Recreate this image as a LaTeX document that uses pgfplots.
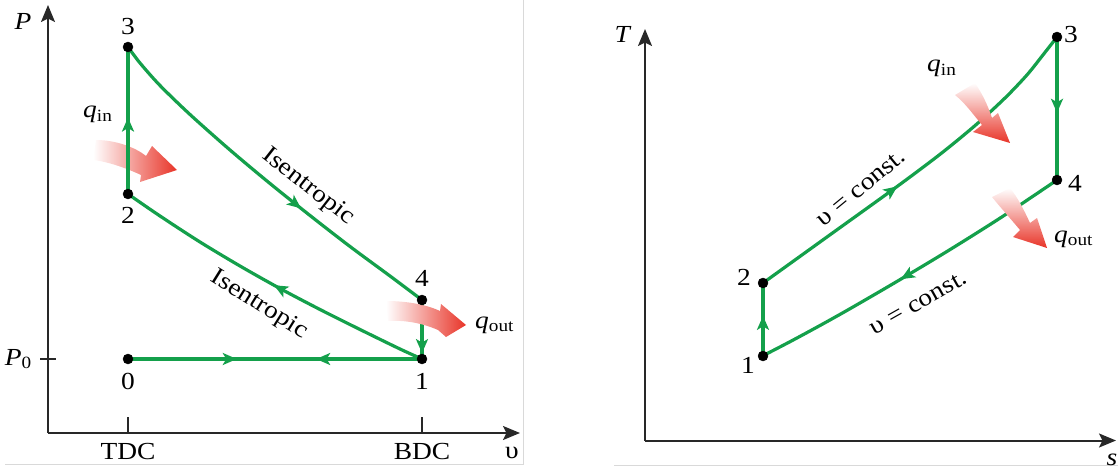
\documentclass[border=0pt]{standalone}
\usepackage{fontspec}
\setmainfont{Liberation Serif}[FakeStretch=1.12]
\usepackage{pgfplots}
\pgfplotsset{compat=1.18}
\usetikzlibrary{arrows.meta,decorations.markings}
\definecolor{cyc}{RGB}{20,160,75}
\definecolor{heat}{RGB}{232,52,40}
\definecolor{axl}{RGB}{40,40,40}
\tikzset{
  cyl/.style={cyc, line width=3.2pt, line join=round},
  ma/.style={postaction={decorate}, decoration={markings, mark=at position #1 with {\arrow{Stealth[length=14pt,width=12pt,inset=3.5pt]}}}},
}
\pgfplotsset{
  dots/.style={only marks, mark=*, mark size=5pt, black},
}
\begin{document}
\fontsize{24.5}{28}\selectfont
\begin{tikzpicture}
\draw[black!15, line width=0.8pt] (5pt,5pt) -- (523pt,5pt) -- (523pt,469pt);
\draw[black!15, line width=0.8pt] (614pt,4pt) -- (1118pt,4pt);

% ---------------- P - v diagram ----------------
\begin{axis}[
  at={(48pt,36pt)}, anchor=south west, scale only axis,
  width=472pt, height=428pt,
  xmin=48, xmax=520, ymin=36, ymax=464,
  axis lines=left, clip=false,
  axis line style={axl, line width=2pt, -{Stealth[length=17pt,width=14pt,inset=3.5pt]}},
  xtick={128,422}, xticklabels={TDC,BDC},
  ytick={110}, yticklabels={\textit{P}\textsubscript{0}},
  tick align=inside, major tick length=16pt,
  tick style={axl, line width=1.6pt},
  ytick style={xshift=-8pt},
  xticklabel style={yshift=-2pt},
  yticklabel style={xshift=-8pt},
]
% heat in (behind line)
\shade[left color=white, right color=heat]
  (axis cs:96,329) .. controls (axis cs:115,329) and (axis cs:135,322) .. (axis cs:146,313)
  -- (axis cs:152,323) -- (axis cs:177,299) -- (axis cs:140,287) -- (axis cs:141,294)
  .. controls (axis cs:128,300) and (axis cs:110,307) .. (axis cs:93,309) -- cycle;
% process lines
\addplot[cyl, postaction={decorate}, decoration={markings,
   mark=at position 0.37 with {\arrow{Stealth[length=14pt,width=12pt,inset=3.5pt]}},
   mark=at position 0.64 with {\arrowreversed{Stealth[length=14pt,width=12pt,inset=3.5pt]}}}]
  coordinates {(128,110) (422,110)};
\addplot[cyl, ma=0.49, smooth] coordinates {
  (422,110) (400,120) (360,139.5) (320,159.5) (280,180.5) (240,203) (200,227) (160,253) (128,275)};
\addplot[cyl, ma=0.52] coordinates {(128,275) (128,422)};
\addplot[cyl, ma=0.61, smooth] coordinates {
  (128,422) (140,406) (160,383.5) (190,354.5) (230,319) (270,285.5) (310,253.5) (350,222.5) (390,193) (422,169)};
\addplot[cyl, ma=0.9] coordinates {(422,169) (422,110)};
% heat out
\shade[left color=white, right color=heat]
  (axis cs:386,168) .. controls (axis cs:405,168) and (axis cs:425,165) .. (axis cs:440,158)
  -- (axis cs:441,165) -- (axis cs:466,144) -- (axis cs:446,132) -- (axis cs:438,139)
  .. controls (axis cs:422,146) and (axis cs:405,149) .. (axis cs:388,148) -- cycle;
\addplot[dots] coordinates {(128,110) (422,110) (128,275) (128,422) (422,169)};
% labels
\node at (axis cs:128,442.3) {3};
\node at (axis cs:128,254) {2};
\node at (axis cs:422,191) {4};
\node at (axis cs:128,87.3) {0};
\node at (axis cs:422,87.3) {1};
\node[anchor=base west, inner sep=0pt] at (axis cs:83,351) {\textit{q}\textsubscript{in}};
\node[anchor=base west, inner sep=0pt] at (axis cs:475,141) {\textit{q}\textsubscript{out}};
\node at (axis cs:23,448) {\textit{P}};
\node at (axis cs:512,16) {υ};
\node[rotate=-38] at (axis cs:308,282) {Isentropic};
\node[rotate=-32] at (axis cs:259,164) {Isentropic};
\end{axis}

% ---------------- T - s diagram ----------------
\begin{axis}[
  at={(645pt,28.5pt)}, anchor=south west, scale only axis,
  width=471pt, height=411.5pt,
  xmin=645, xmax=1116, ymin=28.5, ymax=440,
  axis lines=left, clip=false,
  axis line style={axl, line width=2pt, -{Stealth[length=17pt,width=14pt,inset=3.5pt]}},
  xtick=\empty, ytick=\empty,
]
\addplot[cyl, ma=0.55] coordinates {(763,113) (763,186)};
\addplot[cyl, ma=0.43, smooth] coordinates {
  (763,186) (830,234.2) (896,281.7) (940,314.7) (975,343.4) (1005,371) (1027,394.1) (1043,414.1) (1057,432)};
\addplot[cyl, ma=0.53] coordinates {(1057,432) (1057,289)};
\addplot[cyl, ma=0.54, smooth] coordinates {
  (1057,289) (1003,252.8) (950,219.4) (896,187) (850,160.3) (820,143.5) (790,127.3) (763,113.3)};
% heat in
\shade[top color=white, bottom color=heat]
  (axis cs:975,386) .. controls (axis cs:983,374) and (axis cs:988,363) .. (axis cs:992,351)
  -- (axis cs:998,356) -- (axis cs:1010,326) -- (axis cs:973,337) -- (axis cs:982,344)
  .. controls (axis cs:972,356) and (axis cs:965,366) .. (axis cs:955,374) -- cycle;
% heat out
\shade[top color=white, bottom color=heat]
  (axis cs:1010,281) .. controls (axis cs:1018,271) and (axis cs:1024,259) .. (axis cs:1030,246)
  -- (axis cs:1037,251) -- (axis cs:1047,221) -- (axis cs:1013,232) -- (axis cs:1020,239)
  .. controls (axis cs:1010,251) and (axis cs:1000,262) .. (axis cs:992,272) -- cycle;
\addplot[dots] coordinates {(763,113) (763,186) (1057,432) (1057,289)};
\node at (axis cs:1071,434) {3};
\node at (axis cs:1075,286) {4};
\node at (axis cs:744,192) {2};
\node at (axis cs:748,104) {1};
\node[anchor=base west, inner sep=0pt] at (axis cs:927,397) {\textit{q}\textsubscript{in}};
\node[anchor=base west, inner sep=0pt] at (axis cs:1054,227) {\textit{q}\textsubscript{out}};
\node at (axis cs:623,435) {\textit{T}};
\node at (axis cs:1112,9) {\textit{s}};
\node[rotate=39.4] at (axis cs:861,281) {υ = const.};
\node[rotate=29.4] at (axis cs:918.5,166) {υ = const.};
\end{axis}
\pgfresetboundingbox
\useasboundingbox (0,0) rectangle (1118pt,469pt);
\end{tikzpicture}
\end{document}
